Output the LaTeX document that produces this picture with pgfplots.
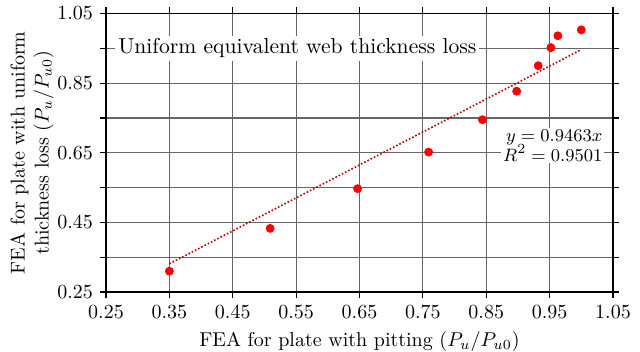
\documentclass[border=0pt]{standalone}
\usepackage{pgfplots}
\pgfplotsset{compat=1.18}
\begin{document}
\begin{tikzpicture}
\begin{axis}[
  scale only axis,
  width=253.5pt, height=139.3pt,
  xmin=0.25, xmax=1.05, ymin=0.25, ymax=1.05,
  xtick={0.25,0.35,...,1.06},
  ytick={0.25,0.45,...,1.06},
  minor ytick={0.35,0.55,...,1.0},
  xticklabel style={/pgf/number format/.cd,fixed,fixed zerofill,precision=2},
  yticklabel style={/pgf/number format/.cd,fixed,fixed zerofill,precision=2},
  grid=both,
  major grid style={black!60, line width=0.6pt},
  minor grid style={black!60, line width=0.6pt},
  axis line style={black, line width=0.8pt},
  tick align=outside,
  major tick length=3pt, minor tick length=3pt,
  tick style={black, line width=0.6pt},
  xlabel={FEA for plate with pitting ($P_u/P_{u0}$)},
  ylabel={FEA for plate with uniform\\thickness loss ($P_u/P_{u0}$)},
  ylabel style={align=center},
  ylabel shift=-5pt,
  clip=false,
]
\addplot[only marks, mark=*, mark size=2pt, color=red] coordinates {
(0.35,0.31) (0.509,0.433) (0.647,0.547) (0.759,0.652) (0.844,0.745)
(0.898,0.827) (0.932,0.900) (0.952,0.952) (0.963,0.986) (1.0,1.003)
};
\addplot[densely dotted, color=red!70!black, line width=0.8pt] coordinates {
(0.35,0.331205) (1.0,0.9463)
};
\node[anchor=west, fill=white, inner sep=1.5pt, font=\fontsize{10.8}{13}\selectfont] at (axis cs:0.264,0.95) {Uniform equivalent web thickness loss};
\node[anchor=east, fill=white, inner sep=1pt, align=right, font=\fontsize{9.5}{11}\selectfont] at (axis cs:1.037,0.671) {$y = 0.9463x$\\[-1pt]$R^2 = 0.9501$};
\end{axis}
\pgfresetboundingbox
\path ([shift={(-53pt,-29.5pt)}]current axis.south west) rectangle ([shift={(13.5pt,6.75pt)}]current axis.north east);
\end{tikzpicture}
\end{document}
